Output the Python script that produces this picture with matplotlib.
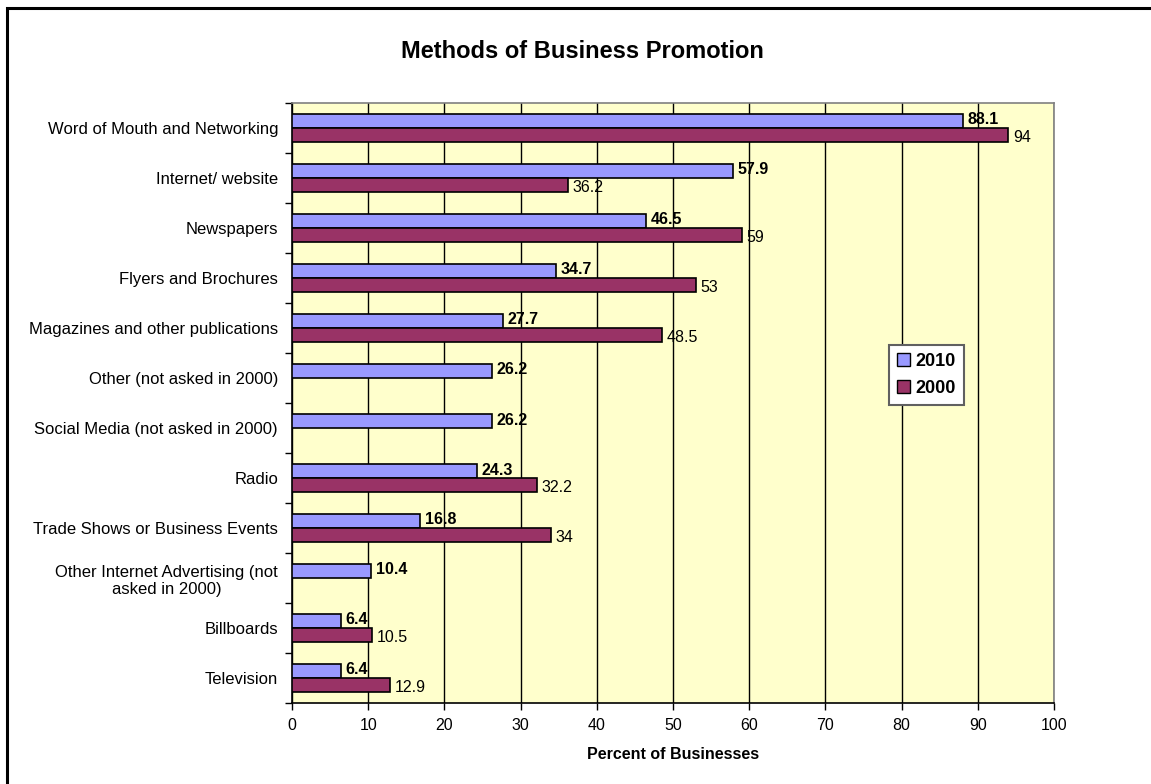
import matplotlib
matplotlib.use("Agg")
import matplotlib.pyplot as plt
from matplotlib.patches import Rectangle, Patch
import numpy as np

plt.rcParams['font.family'] = ['Liberation Sans', 'DejaVu Sans']

categories = [
    "Word of Mouth and Networking",
    "Internet/ website",
    "Newspapers",
    "Flyers and Brochures",
    "Magazines and other publications",
    "Other (not asked in 2000)",
    "Social Media (not asked in 2000)",
    "Radio",
    "Trade Shows or Business Events",
    "Other Internet Advertising (not\nasked in 2000)",
    "Billboards",
    "Television",
]
values_2010 = [88.1, 57.9, 46.5, 34.7, 27.7, 26.2, 26.2, 24.3, 16.8, 10.4, 6.4, 6.4]
values_2000 = [94, 36.2, 59, 53, 48.5, None, None, 32.2, 34, None, 10.5, 12.9]
x_ticks = [0, 10, 20, 30, 40, 50, 60, 70, 80, 90, 100]

W, H = 1151, 784
fig = plt.figure(figsize=(W / 100, H / 100), dpi=100)
fig.patch.set_facecolor("white")

# outer frame (left and top edges visible)
fig.add_artist(Rectangle((7 / W, -0.05), 1.2, 1 - 8 / H + 0.05, transform=fig.transFigure,
                         fill=False, edgecolor="black", linewidth=2.2))

ax = fig.add_axes([292 / W, 1 - 703 / H, (1054 - 292) / W, (703 - 103) / H])
ax.set_facecolor("#FFFFCC")

n = len(categories)
y = np.arange(n)
h = 0.28
blue = "#9999FF"
red = "#993366"

for i in range(n):
    v1 = values_2010[i]
    ax.barh(y[i] - h / 2, v1, height=h, color=blue, edgecolor="black", linewidth=1.2, zorder=3)
    ax.text(v1 + 0.6, y[i] - h / 2 - 0.02, f"{v1:g}", va="center", ha="left", fontsize=11.5,
            fontweight="bold", zorder=4)
    v2 = values_2000[i]
    if v2 is not None:
        ax.barh(y[i] + h / 2, v2, height=h, color=red, edgecolor="black", linewidth=1.2, zorder=3)
        ax.text(v2 + 0.6, y[i] + h / 2 + 0.05, f"{v2:g}", va="center", ha="left", fontsize=11.5,
                zorder=4)

ax.set_ylim(n - 0.5, -0.5)
ax.set_xlim(0, 100)
ax.set_xticks(x_ticks)
ax.set_xticklabels([str(t) for t in x_ticks], fontsize=11.5)
ax.set_yticks(y)
ax.set_yticklabels(categories, fontsize=12, ha="right", multialignment="center")
ax.tick_params(axis="y", length=0, pad=10)
# category separator ticks on the left axis
ax.set_yticks(np.arange(-0.5, n, 1), minor=True)
ax.tick_params(axis="y", which="minor", length=5, width=1, direction="out")
ax.tick_params(axis="x", length=5, width=1, direction="out", pad=6)

ax.xaxis.grid(True, color="black", linewidth=1, zorder=1)
ax.set_axisbelow(True)
for side in ["top", "right"]:
    ax.spines[side].set_color("#808080")
    ax.spines[side].set_linewidth(1.2)
for side in ["left", "bottom"]:
    ax.spines[side].set_color("black")
    ax.spines[side].set_linewidth(1.2)

ax.set_xlabel("Percent of Businesses", fontsize=11.5, fontweight="bold", labelpad=10)
fig.text((401 + 764) / 2 / W, 1 - 52 / H, "Methods of Business Promotion", ha="center",
         va="center", fontsize=17, fontweight="bold")

handles = [Patch(facecolor=blue, edgecolor="black", label="2010"),
           Patch(facecolor=red, edgecolor="black", label="2000")]
leg = ax.legend(handles=handles, loc="upper left",
                bbox_to_anchor=((889 - 292) / (1054 - 292), (703 - 345) / 600),
                frameon=True, fancybox=False, edgecolor="#606060", framealpha=1,
                prop={"weight": "bold", "size": 13}, handlelength=0.72, handleheight=0.72,
                handletextpad=0.3, borderpad=0.45, labelspacing=0.55, borderaxespad=0)
leg.get_frame().set_linewidth(1.5)

fig.savefig("out.png", dpi=100)
